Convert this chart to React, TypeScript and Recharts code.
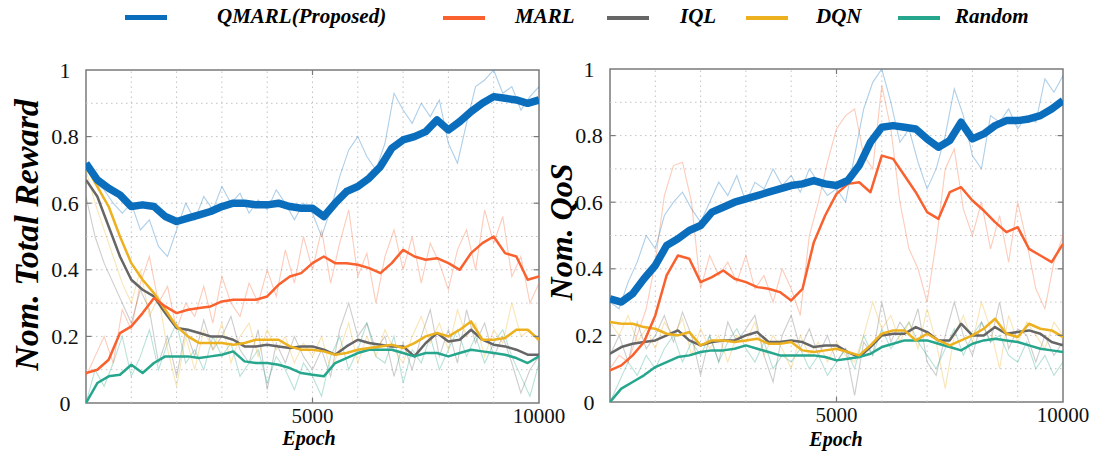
import React from "react";
import { LineChart, Line, XAxis, YAxis, ReferenceLine, ReferenceArea } from "recharts";

// epochs at which the smoothed curves and the raw episode traces are sampled
const smoothEpochs = [
  0, 250, 500, 750, 1000, 1250, 1500, 1750, 2000, 2250, 2500, 2750, 3000, 3250, 3500, 3750, 4000, 4250, 4500, 4750,
  5000, 5250, 5500, 5750, 6000, 6250, 6500, 6750, 7000, 7250, 7500, 7750, 8000, 8250, 8500, 8750, 9000, 9250, 9500,
  9750, 10000,
];
const rawEpochs = [
  0, 200, 400, 600, 800, 1000, 1200, 1400, 1600, 1800, 2000, 2200, 2400, 2600, 2800, 3000, 3200, 3400, 3600, 3800,
  4000, 4200, 4400, 4600, 4800, 5000, 5200, 5400, 5600, 5800, 6000, 6200, 6400, 6600, 6800, 7000, 7200, 7400, 7600,
  7800, 8000, 8200, 8400, 8600, 8800, 9000, 9200, 9400, 9600, 9800, 10000,
];

const xTicks = [5000, 10000];
const yTicks = [0, 0.2, 0.4, 0.6, 0.8, 1];
const gridX = [1000, 2000, 3000, 4000, 5000, 6000, 7000, 8000, 9000];
const gridY = [0.1, 0.2, 0.3, 0.4, 0.5, 0.6, 0.7, 0.8, 0.9];

const seriesNames = ["QMARL(Proposed)", "MARL", "IQL", "DQN", "Random"];
const seriesColors = ["#0a6ebd", "#f9612e", "#666666", "#edb120", "#26a68d"];

// normalised total reward, moving average
const rewardQmarl = [0.72, 0.67, 0.645, 0.625, 0.59, 0.595, 0.59, 0.56, 0.545, 0.555, 0.565, 0.575, 0.59, 0.6, 0.6, 0.595, 0.595, 0.6, 0.59, 0.585, 0.585, 0.56, 0.6, 0.635, 0.65, 0.675, 0.71, 0.765, 0.79, 0.8, 0.815, 0.85, 0.82, 0.845, 0.875, 0.9, 0.92, 0.915, 0.91, 0.9, 0.91];
const rewardMarl = [0.09, 0.1, 0.13, 0.21, 0.23, 0.27, 0.315, 0.29, 0.27, 0.28, 0.285, 0.29, 0.305, 0.31, 0.31, 0.31, 0.32, 0.355, 0.38, 0.39, 0.42, 0.44, 0.42, 0.42, 0.415, 0.405, 0.39, 0.42, 0.46, 0.44, 0.43, 0.435, 0.42, 0.4, 0.45, 0.48, 0.5, 0.45, 0.44, 0.37, 0.38];
const rewardIql = [0.67, 0.62, 0.53, 0.44, 0.37, 0.34, 0.32, 0.27, 0.225, 0.22, 0.21, 0.2, 0.2, 0.19, 0.17, 0.17, 0.175, 0.17, 0.165, 0.17, 0.17, 0.16, 0.145, 0.17, 0.19, 0.18, 0.175, 0.17, 0.17, 0.14, 0.18, 0.21, 0.185, 0.19, 0.22, 0.19, 0.175, 0.17, 0.16, 0.145, 0.145];
const rewardDqn = [0.71, 0.65, 0.59, 0.5, 0.42, 0.37, 0.33, 0.28, 0.23, 0.2, 0.18, 0.18, 0.18, 0.175, 0.18, 0.19, 0.19, 0.19, 0.17, 0.16, 0.16, 0.155, 0.145, 0.15, 0.16, 0.165, 0.17, 0.175, 0.165, 0.18, 0.2, 0.21, 0.2, 0.22, 0.245, 0.19, 0.19, 0.195, 0.22, 0.22, 0.19];
const rewardRandom = [0, 0.06, 0.08, 0.085, 0.115, 0.09, 0.12, 0.14, 0.14, 0.14, 0.135, 0.14, 0.145, 0.155, 0.125, 0.12, 0.12, 0.115, 0.105, 0.09, 0.085, 0.08, 0.12, 0.135, 0.15, 0.16, 0.16, 0.16, 0.15, 0.14, 0.15, 0.15, 0.14, 0.15, 0.16, 0.155, 0.15, 0.145, 0.135, 0.12, 0.14];

// normalised total reward, raw traces
const rewardQmarlRaw = [0.72, 0.66, 0.64, 0.6, 0.57, 0.6, 0.52, 0.55, 0.47, 0.44, 0.52, 0.6, 0.55, 0.62, 0.58, 0.65, 0.6, 0.63, 0.57, 0.61, 0.58, 0.64, 0.6, 0.55, 0.6, 0.57, 0.5, 0.58, 0.68, 0.76, 0.8, 0.74, 0.7, 0.78, 0.93, 0.88, 0.84, 0.9, 0.86, 0.91, 0.78, 0.72, 0.84, 0.95, 0.97, 1.0, 0.93, 0.95, 0.88, 0.92, 0.95];
const rewardMarlRaw = [0.08, 0.14, 0.2, 0.12, 0.28, 0.22, 0.36, 0.44, 0.3, 0.35, 0.22, 0.3, 0.26, 0.35, 0.24, 0.38, 0.3, 0.26, 0.36, 0.3, 0.4, 0.32, 0.46, 0.36, 0.5, 0.4, 0.52, 0.36, 0.48, 0.58, 0.38, 0.45, 0.3, 0.44, 0.52, 0.4, 0.5, 0.36, 0.48, 0.42, 0.34, 0.46, 0.52, 0.4, 0.58, 0.48, 0.56, 0.38, 0.44, 0.3, 0.36];
const rewardIqlRaw = [0.62, 0.5, 0.42, 0.36, 0.3, 0.24, 0.34, 0.28, 0.12, 0.2, 0.08, 0.22, 0.14, 0.25, 0.16, 0.2, 0.26, 0.16, 0.12, 0.22, 0.04, 0.18, 0.12, 0.2, 0.14, 0.1, 0.16, 0.08, 0.22, 0.3, 0.2, 0.24, 0.16, 0.2, 0.08, 0.18, 0.1, 0.2, 0.28, 0.14, 0.22, 0.12, 0.28, 0.18, 0.24, 0.14, 0.2, 0.12, 0.03, 0.1, 0.14];
const rewardDqnRaw = [0.7, 0.6, 0.52, 0.44, 0.36, 0.3, 0.4, 0.26, 0.32, 0.16, 0.05, 0.2, 0.1, 0.22, 0.16, 0.24, 0.12, 0.2, 0.24, 0.14, 0.22, 0.16, 0.2, 0.12, 0.18, 0.14, 0.2, 0.1, 0.16, 0.24, 0.12, 0.2, 0.14, 0.22, 0.16, 0.12, 0.2, 0.26, 0.18, 0.24, 0.16, 0.28, 0.2, 0.24, 0.14, 0.22, 0.18, 0.3, 0.2, 0.22, 0.18];
const rewardRandomRaw = [0, 0.1, 0.05, 0.12, 0.2, 0.08, 0.14, 0.22, 0.1, 0.18, 0.24, 0.12, 0.16, 0.1, 0.2, 0.14, 0.18, 0.08, 0.12, 0.16, 0.06, 0.14, 0.1, 0.04, 0.12, 0.08, 0.02, 0.14, 0.2, 0.1, 0.16, 0.24, 0.14, 0.12, 0.2, 0.06, 0.16, 0.12, 0.2, 0.1, 0.16, 0.22, 0.14, 0.2, 0.12, 0.18, 0.22, 0.14, 0.08, 0.02, 0.12];

// normalised QoS, moving average
const qosQmarl = [0.31, 0.3, 0.325, 0.37, 0.41, 0.47, 0.49, 0.515, 0.53, 0.57, 0.585, 0.6, 0.61, 0.62, 0.63, 0.64, 0.65, 0.655, 0.665, 0.655, 0.65, 0.665, 0.71, 0.78, 0.825, 0.83, 0.825, 0.82, 0.79, 0.765, 0.785, 0.84, 0.79, 0.805, 0.83, 0.845, 0.845, 0.85, 0.86, 0.88, 0.905];
const qosMarl = [0.095, 0.11, 0.14, 0.18, 0.26, 0.38, 0.44, 0.43, 0.36, 0.375, 0.395, 0.37, 0.36, 0.345, 0.34, 0.33, 0.305, 0.34, 0.48, 0.56, 0.625, 0.655, 0.66, 0.63, 0.74, 0.73, 0.68, 0.63, 0.57, 0.55, 0.63, 0.645, 0.605, 0.575, 0.54, 0.51, 0.525, 0.46, 0.44, 0.42, 0.475];
const qosIql = [0.145, 0.165, 0.175, 0.18, 0.185, 0.2, 0.215, 0.185, 0.17, 0.18, 0.185, 0.185, 0.2, 0.21, 0.18, 0.18, 0.185, 0.18, 0.165, 0.17, 0.17, 0.15, 0.135, 0.165, 0.2, 0.205, 0.205, 0.225, 0.21, 0.185, 0.185, 0.235, 0.2, 0.2, 0.225, 0.205, 0.21, 0.215, 0.205, 0.18, 0.17];
const qosDqn = [0.24, 0.235, 0.235, 0.225, 0.22, 0.205, 0.2, 0.21, 0.17, 0.185, 0.185, 0.18, 0.185, 0.19, 0.175, 0.175, 0.18, 0.155, 0.15, 0.155, 0.16, 0.15, 0.14, 0.17, 0.205, 0.215, 0.215, 0.185, 0.205, 0.185, 0.17, 0.185, 0.2, 0.22, 0.25, 0.205, 0.195, 0.235, 0.22, 0.215, 0.195];
const qosRandom = [0, 0.04, 0.06, 0.08, 0.105, 0.12, 0.135, 0.14, 0.15, 0.155, 0.155, 0.16, 0.17, 0.16, 0.15, 0.14, 0.14, 0.14, 0.14, 0.135, 0.125, 0.13, 0.135, 0.145, 0.165, 0.175, 0.185, 0.185, 0.185, 0.175, 0.165, 0.155, 0.175, 0.185, 0.19, 0.185, 0.18, 0.17, 0.16, 0.155, 0.15];

// normalised QoS, raw traces
const qosQmarlRaw = [0.3, 0.28, 0.36, 0.42, 0.5, 0.46, 0.56, 0.6, 0.63, 0.58, 0.54, 0.6, 0.66, 0.62, 0.68, 0.6, 0.66, 0.64, 0.7, 0.65, 0.68, 0.63, 0.7, 0.66, 0.62, 0.64, 0.6, 0.74, 0.88, 0.96, 1.0, 0.9, 0.78, 0.82, 0.72, 0.64, 0.7, 0.8, 0.94, 0.86, 0.74, 0.7, 0.86, 0.84, 0.88, 0.82, 0.86, 0.84, 0.97, 0.93, 0.98];
const qosMarlRaw = [0.1, 0.14, 0.12, 0.2, 0.28, 0.42, 0.62, 0.71, 0.72, 0.6, 0.34, 0.44, 0.38, 0.42, 0.36, 0.44, 0.34, 0.38, 0.3, 0.4, 0.34, 0.26, 0.5, 0.6, 0.72, 0.82, 0.86, 0.88, 0.74, 0.7, 0.95, 0.82, 0.6, 0.46, 0.4, 0.3, 0.48, 0.7, 0.76, 0.58, 0.5, 0.6, 0.46, 0.56, 0.42, 0.6, 0.48, 0.34, 0.28, 0.42, 0.5];
const qosIqlRaw = [0.14, 0.2, 0.12, 0.24, 0.16, 0.2, 0.26, 0.18, 0.27, 0.2, 0.08, 0.2, 0.12, 0.24, 0.18, 0.22, 0.26, 0.14, 0.06, 0.2, 0.26, 0.16, 0.22, 0.14, 0.2, 0.12, 0.16, 0.02, 0.18, 0.14, 0.3, 0.18, 0.24, 0.2, 0.28, 0.12, 0.08, 0.2, 0.3, 0.2, 0.14, 0.24, 0.18, 0.3, 0.16, 0.22, 0.2, 0.12, 0.2, 0.14, 0.18];
const qosDqnRaw = [0.24, 0.2, 0.26, 0.18, 0.22, 0.16, 0.24, 0.2, 0.25, 0.14, 0.22, 0.16, 0.2, 0.12, 0.2, 0.18, 0.24, 0.14, 0.2, 0.16, 0.1, 0.2, 0.14, 0.18, 0.12, 0.18, 0.14, 0.12, 0.2, 0.3, 0.22, 0.26, 0.18, 0.24, 0.16, 0.28, 0.18, 0.04, 0.2, 0.26, 0.18, 0.3, 0.22, 0.1, 0.26, 0.18, 0.24, 0.2, 0.16, 0.24, 0.2];
const qosRandomRaw = [0, 0.06, 0.12, 0.08, 0.14, 0.1, 0.16, 0.2, 0.12, 0.18, 0.14, 0.2, 0.12, 0.18, 0.22, 0.16, 0.12, 0.18, 0.1, 0.14, 0.12, 0.16, 0.1, 0.14, 0.08, 0.12, 0.16, 0.1, 0.2, 0.14, 0.22, 0.16, 0.2, 0.24, 0.18, 0.14, 0.1, 0.16, 0.22, 0.14, 0.2, 0.24, 0.18, 0.2, 0.14, 0.12, 0.18, 0.1, 0.14, 0.08, 0.12];

const SERIF = '"Liberation Serif", "Times New Roman", serif';

const toRows = (xs: number[], vs: number[]) => xs.map((x, i) => ({ x, v: vs[i] }));

// index order: QMARL, MARL, IQL, DQN, Random
const rewardSmooth = [rewardQmarl, rewardMarl, rewardIql, rewardDqn, rewardRandom];
const rewardRaw = [rewardQmarlRaw, rewardMarlRaw, rewardIqlRaw, rewardDqnRaw, rewardRandomRaw];
const qosSmooth = [qosQmarl, qosMarl, qosIql, qosDqn, qosRandom];
const qosRaw = [qosQmarlRaw, qosMarlRaw, qosIqlRaw, qosDqnRaw, qosRandomRaw];

// paint order, back to front
const drawOrder = [2, 4, 3, 1, 0];

function YTick({ y, payload }: any) {
  return (
    <text x={65} y={y} dy={7.5} textAnchor="middle" fontFamily={SERIF} fontSize={22} fill="#111">
      {String(payload.value)}
    </text>
  );
}

function XTick({ x, y, payload }: any) {
  return (
    <text x={x} y={y} dy={18} textAnchor="middle" fontFamily={SERIF} fontSize={21} fill="#111">
      {String(payload.value)}
    </text>
  );
}

function Panel({ smooth, raw, left, top }: { smooth: number[][]; raw: number[][]; left: number; top: number }) {
  return (
    <div style={{ position: "absolute", left, top }}>
      <LineChart width={600} height={453} margin={{ top: 70, right: 61, bottom: 0, left: 0 }}>
        <XAxis
          dataKey="x"
          type="number"
          domain={[0, 10000]}
          ticks={xTicks}
          interval={0}
          tick={<XTick />}
          tickLine={false}
          axisLine={false}
          tickSize={0}
          height={50}
          allowDataOverflow
        />
        <YAxis
          type="number"
          domain={[0, 1]}
          ticks={yTicks}
          interval={0}
          tick={<YTick />}
          tickLine={false}
          axisLine={false}
          tickSize={0}
          width={86}
          allowDataOverflow
        />
        {gridX.map((g) => (
          <ReferenceLine key={"gx" + g} x={g} stroke="#c4c4c4" strokeDasharray="1.5 3.5" />
        ))}
        {gridY.map((g) => (
          <ReferenceLine key={"gy" + g} y={g} stroke="#c4c4c4" strokeDasharray="1.5 3.5" />
        ))}
        {drawOrder.map((i) => (
          <Line
            key={"raw" + i}
            data={toRows(rawEpochs, raw[i])}
            dataKey="v"
            stroke={seriesColors[i]}
            strokeOpacity={0.33}
            strokeWidth={1.1}
            dot={false}
            activeDot={false}
            isAnimationActive={false}
          />
        ))}
        {drawOrder.map((i) => (
          <Line
            key={"avg" + i}
            data={toRows(smoothEpochs, smooth[i])}
            dataKey="v"
            stroke={seriesColors[i]}
            strokeWidth={i === 0 ? 7.5 : 2.5}
            strokeLinejoin="round"
            dot={false}
            activeDot={false}
            isAnimationActive={false}
          />
        ))}
        <ReferenceArea x1={0} x2={10000} y1={0} y2={1} fill="none" stroke="#7a7a7a" strokeWidth={1.5} />
        {yTicks.slice(1, 5).map((t) => (
          <ReferenceLine key={"tl" + t} segment={[{ x: 0, y: t }, { x: 120, y: t }]} stroke="#7a7a7a" strokeWidth={1.2} />
        ))}
        {yTicks.slice(1, 5).map((t) => (
          <ReferenceLine key={"tr" + t} segment={[{ x: 9880, y: t }, { x: 10000, y: t }]} stroke="#7a7a7a" strokeWidth={1.2} />
        ))}
        <ReferenceLine segment={[{ x: 5000, y: 0 }, { x: 5000, y: 0.015 }]} stroke="#7a7a7a" strokeWidth={1.2} />
        <ReferenceLine segment={[{ x: 5000, y: 0.985 }, { x: 5000, y: 1 }]} stroke="#7a7a7a" strokeWidth={1.2} />
      </LineChart>
    </div>
  );
}

const legendSwatchX = [125, 443, 607, 746, 898];
const legendTextX = [217, 515, 680, 816, 955];

const titleStyle: React.CSSProperties = {
  position: "absolute",
  fontFamily: SERIF,
  fontWeight: "bold",
  fontStyle: "italic",
  whiteSpace: "nowrap",
  lineHeight: 1,
  color: "#000",
};

export default function App() {
  return (
    <div
      style={{
        position: "absolute",
        left: 0,
        top: 0,
        width: 1096,
        height: 453,
        overflow: "hidden",
        background: "#fff",
      }}
    >
      <Panel smooth={rewardSmooth} raw={rewardRaw} left={0} top={0} />
      <Panel smooth={qosSmooth} raw={qosRaw} left={524} top={-1} />

      {seriesNames.map((name, i) => (
        <React.Fragment key={name}>
          <div
            style={{
              position: "absolute",
              left: legendSwatchX[i],
              top: i === 0 ? 15 : 15.5,
              width: 42,
              height: i === 0 ? 5 : 4,
              background: seriesColors[i],
            }}
          />
          <div style={{ ...titleStyle, left: legendTextX[i], top: 6, fontSize: 21 }}>{name}</div>
        </React.Fragment>
      ))}

      <div style={{ ...titleStyle, left: 27, top: 235, fontSize: 34, transform: "translate(-50%, -50%) rotate(-90deg)" }}>
        Nom. Total Reward
      </div>
      <div style={{ ...titleStyle, left: 561, top: 232, fontSize: 32, transform: "translate(-50%, -50%) rotate(-90deg)" }}>
        Nom. QoS
      </div>
      <div style={{ ...titleStyle, left: 309, top: 431, fontSize: 20, lineHeight: "15px", transform: "translateX(-50%)" }}>
        Epoch
      </div>
      <div style={{ ...titleStyle, left: 836, top: 432, fontSize: 20, lineHeight: "15px", transform: "translateX(-50%)" }}>
        Epoch
      </div>
    </div>
  );
}
